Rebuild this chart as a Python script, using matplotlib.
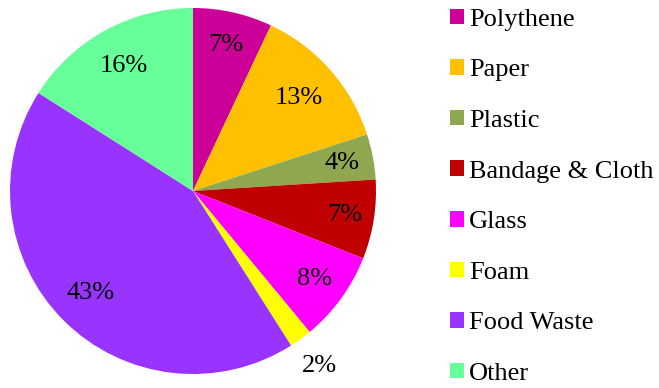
import numpy as np
import matplotlib.pyplot as plt

plt.rcParams['font.family'] = 'serif'
plt.rcParams['font.serif'] = ['Liberation Serif', 'Times New Roman', 'DejaVu Serif']

labels = ['Polythene', 'Paper', 'Plastic', 'Bandage & Cloth', 'Glass', 'Foam', 'Food Waste', 'Other']
values = [7, 13, 4, 7, 8, 2, 43, 16]
colors = ['#CC0099', '#FFC000', '#8FA850', '#C00000', '#FF00FF', '#FFFF00', '#9933FF', '#66FF99']
# label distance from centre, as fraction of radius
label_r = [0.82, 0.77, 0.83, 0.84, 0.82, 1.18, 0.79, 0.78]

W, H = 659, 388
fig = plt.figure(figsize=(W / 100, H / 100), dpi=100)
cx, cy, r = 193, 191, 183
ax = fig.add_axes([(cx - r) / W, (H - cy - r) / H, 2 * r / W, 2 * r / H])

wedges, _ = ax.pie(values, colors=colors, startangle=90, counterclock=False,
                   radius=1, wedgeprops=dict(linewidth=0))
ax.set_xlim(-1, 1)
ax.set_ylim(-1, 1)
ax.set_aspect('equal')

for w, v, d in zip(wedges, values, label_r):
    ang = np.deg2rad((w.theta1 + w.theta2) / 2)
    ax.text(d * np.cos(ang), d * np.sin(ang), f'{v}%', ha='center', va='center',
            fontsize=19)

fig.legend(wedges, labels, loc='upper left', bbox_to_anchor=(439.5 / W, 1.0 + 2 / H),
           frameon=False, fontsize=19, handlelength=0.53, handleheight=0.53,
           handletextpad=0.19, labelspacing=1.08, borderaxespad=0)

fig.savefig('out.png', dpi=100)
